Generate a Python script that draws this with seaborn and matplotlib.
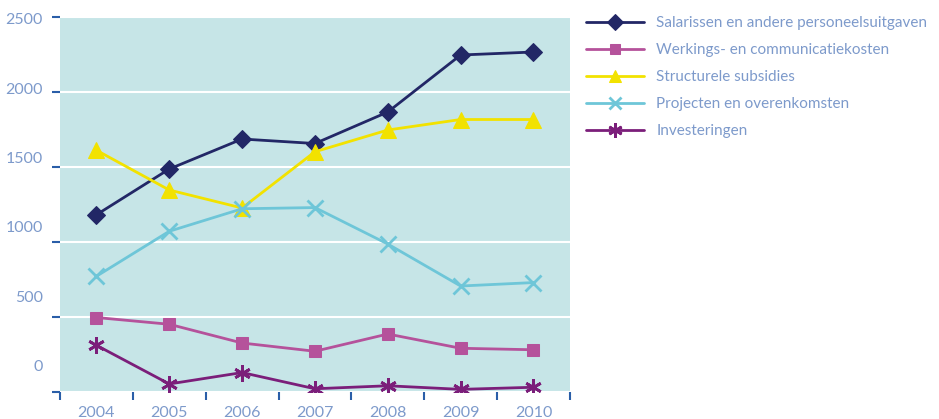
import numpy as np
import pandas as pd
import matplotlib.pyplot as plt
import seaborn as sns

# data
years = ['2004', '2005', '2006', '2007', '2008', '2009', '2010']
salarissen = [1180, 1485, 1685, 1655, 1865, 2245, 2265]
werking = [495, 450, 325, 270, 385, 290, 280]
subsidies = [1610, 1345, 1225, 1600, 1745, 1815, 1815]
projecten = [770, 1070, 1220, 1228, 985, 705, 728]
investeringen = [310, 52, 128, 20, 40, 16, 30]

series_names = ['Salarissen en andere personeelsuitgaven',
                'Werkings- en communicatiekosten',
                'Structurele subsidies',
                'Projecten en overenkomsten',
                'Investeringen']
y_ticks = [0, 500, 1000, 1500, 2000, 2500]

sns.set_theme(style="white")
plt.rcParams['font.family'] = ['Lato', 'DejaVu Sans']

label_col = '#7d9acb'
tick_col = '#2a5ea8'
fs = 11.5

fig = plt.figure(figsize=(9.39, 4.19), dpi=100)
ax = fig.add_axes([0.0639, 0.065, 0.543, 0.895])
ax.set_facecolor('#c6e5e7')

x = np.arange(len(years))
styles = [
    (salarissen, '#222766', dict(marker='D', markersize=9)),
    (werking, '#b5529b', dict(marker='s', markersize=9)),
    (subsidies, '#f2e200', dict(marker='^', markersize=11)),
    (projecten, '#6ec6d8', dict(marker='x', markersize=11, markeredgewidth=2)),
    (investeringen, '#7b1e7a', dict(marker=(6, 2, 0), markersize=12, markeredgewidth=2)),
]
for name, (vals, col, kw) in zip(series_names, styles):
    sns.lineplot(x=x, y=vals, ax=ax, color=col, linewidth=2, label=name,
                 markeredgecolor=col, **kw)

ax.set_xlim(-0.5, len(years) - 0.5)
ax.set_ylim(0, 2500)
for s in ax.spines.values():
    s.set_visible(False)

# white horizontal gridlines
ax.set_yticks(y_ticks)
ax.yaxis.grid(True, color='white', linewidth=1.5)
ax.xaxis.grid(False)
ax.set_axisbelow(True)
ax.tick_params(axis='y', length=6, width=1.5, color=tick_col, left=True,
               labelleft=False)

# y labels sit a bit off from their ticks in the original
for v in y_ticks:
    ax.text(-0.034, 165 + v * 0.925, str(v), transform=ax.get_yaxis_transform(),
            ha='right', va='center', fontsize=fs, color=label_col)

ax.set_xticks(x)
ax.set_xticklabels(years)
ax.set_xticks(np.arange(-0.5, len(years), 1.0), minor=True)
ax.tick_params(axis='x', which='major', length=0, pad=10, labelsize=fs,
               labelcolor=label_col)
ax.tick_params(axis='x', which='minor', length=6, width=1.5, color=tick_col,
               bottom=True)
ax.set_xlabel('')
ax.set_ylabel('')

leg = ax.legend(loc='upper left', bbox_to_anchor=(0.624, 0.962),
                bbox_transform=fig.transFigure, frameon=False, fontsize=11,
                handlelength=3.8, handletextpad=0.8, labelspacing=0.86,
                borderpad=0, borderaxespad=0, markerscale=0.85)
for t in leg.get_texts():
    t.set_color(label_col)

fig.savefig('out.png', dpi=100)
